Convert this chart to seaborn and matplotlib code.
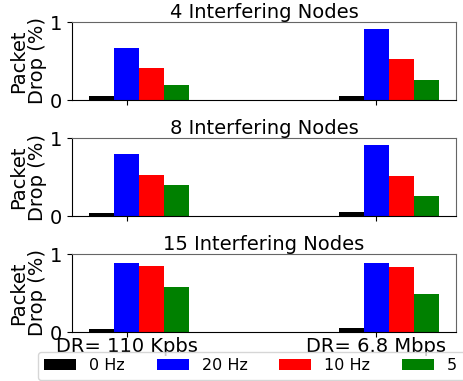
import matplotlib
matplotlib.use("Agg")
import matplotlib.pyplot as plt
import seaborn as sns
import pandas as pd
import numpy as np

categories = ["DR= 110 Kpbs", "DR= 6.8 Mbps"]
freqs = ["0 Hz", "20 Hz", "10 Hz", "5 Hz"]
titles = ["4 Interfering Nodes", "8 Interfering Nodes", "15 Interfering Nodes"]

# values per panel: rows = frequency, cols = category
nodes4 = [[0.05, 0.05], [0.667, 0.91], [0.41, 0.526], [0.19, 0.256]]
nodes8 = [[0.04, 0.05], [0.80, 0.914], [0.53, 0.515], [0.40, 0.26]]
nodes15 = [[0.04, 0.055], [0.885, 0.885], [0.85, 0.834], [0.58, 0.49]]
panels = [nodes4, nodes8, nodes15]

colors = {"0 Hz": "black", "20 Hz": "blue", "10 Hz": "red", "5 Hz": "green", "_pad": "white"}
hue_order = ["_pad"] + freqs

plt.rcParams["font.family"] = ["DejaVu Sans"]
fig = plt.figure(figsize=(4.64, 3.81), dpi=100)
W, H = 464, 381
boxes = [(22, 100), (138.5, 216), (254, 332)]
left, right = 72, 456

axes = []
for i, (vals, title) in enumerate(zip(panels, titles)):
    top, bot = boxes[i]
    ax = fig.add_axes([left / W, 1 - bot / H, (right - left) / W, (bot - top) / H])
    rows = []
    for f, fv in zip(freqs, vals):
        for c, v in zip(categories, fv):
            rows.append({"cat": c, "freq": f, "val": v})
    df = pd.DataFrame(rows)
    sns.barplot(data=df, x="cat", y="val", hue="freq", hue_order=hue_order,
                order=categories, palette=colors, width=0.5, saturation=1,
                linewidth=0, errorbar=None, ax=ax, legend=(i == 2))
    ax.set_xlim(-0.22, 1.32)
    ax.set_ylim(0, 1)
    ax.set_yticks([0, 1])
    ax.set_yticklabels(["0", "1"], fontsize=14)
    ax.set_title(title, fontsize=14, pad=2)
    ax.set_ylabel("Packet\nDrop (%)", fontsize=14, labelpad=2, linespacing=1.0)
    ax.set_xlabel("")
    if i < 2:
        ax.set_xticklabels([])
    else:
        ax.tick_params(axis="x", labelsize=14, pad=0)
    for s in ["top", "right"]:
        ax.spines[s].set_color("#666666")
    for s in ["left", "bottom"]:
        ax.spines[s].set_color("black")
    ax.tick_params(axis="y", length=3.5)
    ax.tick_params(axis="x", length=3.5)
    axes.append(ax)

handles, labels = axes[2].get_legend_handles_labels()
pairs = [(h, l) for h, l in zip(handles, labels) if l in freqs]
if axes[2].get_legend() is not None:
    axes[2].get_legend().remove()
fig.legend([p[0] for p in pairs], [p[1] for p in pairs], ncol=4, fontsize=11.5,
           loc="upper left", bbox_to_anchor=(38 / W, 1 - 352 / H), borderaxespad=0,
           handlelength=2.0, handletextpad=0.8, columnspacing=2.0, frameon=True)

fig.savefig("out.png", dpi=100)
